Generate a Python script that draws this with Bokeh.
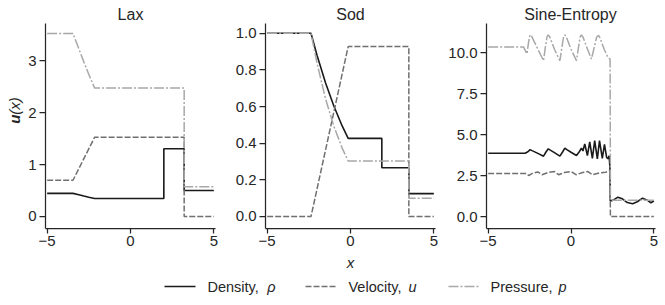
import math
from bokeh.plotting import figure
from bokeh.models import Range1d, FixedTicker
from bokeh.layouts import column, row
from bokeh.embed import file_html
from bokeh.resources import INLINE
from bokeh.core.properties import value

FONT = "Liberation Sans"
INK = "#262626"
C_RHO = "#1a1a1a"
C_U = "#707070"
C_P = "#a8a8a8"
DASH_U = "6 2"
DASH_P = "10 2 2 2"

# ---------------- data ----------------
titles = ["Lax", "Sod", "Sine-Entropy"]

# Lax
lax_rho_x = [-5, -3.45, -3.1, -2.8, -2.5, -2.15, 2.0, 2.0, 3.22, 3.22, 5]
lax_rho_y = [0.445, 0.445, 0.418, 0.394, 0.371, 0.346, 0.346, 1.304, 1.304, 0.5, 0.5]
lax_u_x = [-5, -3.45, -2.15, 3.22, 3.22, 5]
lax_u_y = [0.698, 0.698, 1.529, 1.529, 0.0, 0.0]
lax_p_x = [-5, -3.45, -3.1, -2.8, -2.5, -2.15, 3.22, 3.22, 5]
lax_p_y = [3.528, 3.528, 3.233, 2.98, 2.738, 2.475, 2.475, 0.571, 0.571]

# Sod
sod_rho_x = [-5, -2.37, -2.0, -1.5, -1.0, -0.5, -0.14, 1.88, 1.88, 3.5, 3.5, 5]
sod_rho_y = [1.0, 1.0, 0.877, 0.730, 0.603, 0.494, 0.426, 0.426, 0.266, 0.266, 0.125, 0.125]
sod_u_x = [-5, -2.37, -0.14, 3.5, 3.5, 5]
sod_u_y = [0.0, 0.0, 0.927, 0.927, 0.0, 0.0]
sod_p_x = [-5, -2.37, -2.0, -1.5, -1.0, -0.5, -0.14, 3.5, 3.5, 5]
sod_p_y = [1.0, 1.0, 0.833, 0.643, 0.493, 0.373, 0.303, 0.303, 0.1, 0.1]

# Sine-Entropy
se_rho_x = [-5, -2.77, -2.6, -2.47, -2.35, -2.0, -1.66, -1.5, -1.37, -1.25, -1.0,
            -0.67, -0.5, -0.37, -0.25, 0.0, 0.33, 0.5, 0.63, 0.72, 0.83, 0.99,
            1.13, 1.29, 1.43, 1.59, 1.72, 1.89, 2.02, 2.15, 2.23, 2.3, 2.35,
            2.37, 2.55, 2.83, 3.1, 3.4, 3.72, 4.0, 4.32, 4.6, 4.82, 5.0]
se_rho_y = [3.857, 3.857, 3.95, 4.08, 4.02, 3.85, 3.68, 3.95, 4.13, 4.05, 3.9,
            3.68, 3.95, 4.17, 4.08, 3.92, 3.72, 3.95, 4.17, 4.0, 4.43, 3.72,
            4.55, 3.55, 4.63, 3.52, 4.63, 3.55, 4.4, 3.6, 3.52, 3.7, 3.0,
            0.95, 1.0, 1.18, 1.08, 0.85, 0.78, 0.9, 1.12, 1.0, 0.84, 0.95]
se_u_x = [-5, -2.7, -2.55, -2.3, -2.0, -1.75, -1.4, -1.0, -0.75, -0.4, 0.0, 0.3,
          0.7, 1.0, 1.3, 1.7, 2.1, 2.35, 2.38, 5]
se_u_y = [2.629, 2.629, 2.5, 2.65, 2.72, 2.55, 2.68, 2.74, 2.55, 2.68, 2.75, 2.55,
          2.68, 2.75, 2.55, 2.65, 2.7, 2.8, 0.0, 0.0]
se_p_x = [-5, -2.86, -2.66, -2.55, -2.47, -2.38, -2.0, -1.66, -1.55, -1.45, -1.37,
          -1.28, -1.0, -0.67, -0.55, -0.45, -0.37, -0.28, 0.0, 0.33, 0.45, 0.55,
          0.63, 0.72, 1.0, 1.23, 1.4, 1.55, 1.66, 1.75, 2.0, 2.23, 2.36, 2.38, 5]
se_p_y = [10.333, 10.333, 9.92, 10.7, 11.08, 11.0, 10.2, 9.51, 10.3, 10.95, 11.08,
          10.95, 10.2, 9.51, 10.3, 10.95, 11.08, 10.95, 10.2, 9.51, 10.3, 10.95,
          11.08, 10.95, 10.2, 9.6, 10.3, 10.95, 11.05, 10.9, 10.2, 9.7, 9.6, 1.0, 1.0]

x_ticks = [-5, 0, 5]
x_tick_labels = ["\u22125", "0", "5"]
y_ticks = [[0, 1, 2, 3], [0.0, 0.2, 0.4, 0.6, 0.8, 1.0], [0.0, 2.5, 5.0, 7.5, 10.0]]
y_tick_labels = [["0", "1", "2", "3"],
                 ["0.0", "0.2", "0.4", "0.6", "0.8", "1.0"],
                 ["0.0", "2.5", "5.0", "7.5", "10.0"]]
y_ranges = [(-0.232, 3.72), (-0.0655, 1.053), (-0.73, 11.77)]

series = [
    (lax_rho_x, lax_rho_y, lax_u_x, lax_u_y, lax_p_x, lax_p_y),
    (sod_rho_x, sod_rho_y, sod_u_x, sod_u_y, sod_p_x, sod_p_y),
    (se_rho_x, se_rho_y, se_u_x, se_u_y, se_p_x, se_p_y),
]

# ---------------- layout ----------------
TOTAL_W = 658
YLAB_W = 25
FRAME_W = 170
borders = [(20, 10), (40, 10), (40, 3)]
FRAME_H, BOTTOM = 205, 24
ROW_H = FRAME_H + BOTTOM
TOP_H = 23
BOT_H = 49
XR = (-5.1, 5.1)


def strip(w, h):
    s = figure(width=w, height=h, x_range=Range1d(0, w), y_range=Range1d(0, h),
               output_backend="svg", toolbar_location=None, min_border=0,
               x_axis_location=None, y_axis_location=None)
    s.outline_line_color = None
    s.grid.visible = False
    return s


# titles strip
top = strip(TOTAL_W, TOP_H)
top.text(x=[130, 350, 570], y=[8.7] * 3, text=titles, text_font=value(FONT),
         text_font_size="16px", text_align="center", text_baseline="middle",
         text_color=INK)

# y-label strip
ylab = strip(YLAB_W, ROW_H)
ylab.text(x=[13.5], y=[ROW_H - 112], text=["u"], angle=math.pi / 2,
          text_font=value(FONT), text_font_style="bold italic", text_font_size="15px",
          text_align="left", text_baseline="middle", text_color=INK)
ylab.text(x=[13.5], y=[ROW_H - 102], text=["(x)"], angle=math.pi / 2,
          text_font=value(FONT), text_font_style="italic", text_font_size="15px",
          text_align="left", text_baseline="middle", text_color=INK)

panels = []
for i in range(3):
    bl, br = borders[i]
    p = figure(width=bl + FRAME_W + br, height=ROW_H,
               x_range=Range1d(*XR), y_range=Range1d(*y_ranges[i]),
               output_backend="svg", toolbar_location=None,
               min_border_left=bl, min_border_right=br,
               min_border_top=0, min_border_bottom=BOTTOM)
    p.outline_line_color = None
    p.grid.visible = False
    for ax in (p.xaxis[0], p.yaxis[0]):
        ax.axis_line_color = INK
        ax.axis_line_width = 1.25
        ax.major_tick_line_color = INK
        ax.major_tick_line_width = 1.25
        ax.major_tick_in = 0
        ax.minor_tick_line_color = None
        ax.major_label_text_font = FONT
        ax.major_label_text_font_size = "15px"
        ax.major_label_text_color = INK
    p.yaxis.major_tick_out = 6
    p.yaxis.major_label_standoff = 3
    p.xaxis.major_tick_out = 5
    p.xaxis.major_label_standoff = 2
    p.xaxis.ticker = FixedTicker(ticks=x_ticks)
    p.xaxis.major_label_overrides = {t: s for t, s in zip(x_ticks, x_tick_labels)}
    p.yaxis.ticker = FixedTicker(ticks=y_ticks[i])
    p.yaxis.major_label_overrides = {t: s for t, s in zip(y_ticks[i], y_tick_labels[i])}

    rx, ry, ux, uy, px, py = series[i]
    p.line(rx, ry, line_color=C_RHO, line_width=1.6)
    p.line(ux, uy, line_color=C_U, line_width=1.5, line_dash=DASH_U)
    p.line(px, py, line_color=C_P, line_width=1.5, line_dash=DASH_P)
    panels.append(p)

# bottom strip: x label + legend
bot = strip(TOTAL_W, BOT_H)
bot.text(x=[350], y=[BOT_H - 9.5], text=["x"], text_font=value(FONT),
         text_font_style="italic", text_font_size="15px", text_align="center",
         text_baseline="middle", text_color=INK)
LY = 15
bot.line([164, 195], [LY, LY], line_color=C_RHO, line_width=1.6)
bot.line([305, 335], [LY, LY], line_color=C_U, line_width=1.5, line_dash=DASH_U)
bot.line([448, 478], [LY, LY], line_color=C_P, line_width=1.5, line_dash=DASH_P)
bot.text(x=[207, 348, 490], y=[LY] * 3, text=["Density,", "Velocity,", "Pressure,"],
         text_font=value(FONT), text_font_size="14.5px", text_baseline="middle",
         text_color=INK)
bot.text(x=[266.7, 408, 558], y=[LY] * 3, text=["\u03c1", "u", "p"],
         text_font=value(FONT), text_font_style="italic", text_font_size="14.5px",
         text_baseline="middle", text_color=INK)

layout = column(top, row(ylab, *panels), bot)
open("out.html", "w").write(file_html(layout, INLINE))
